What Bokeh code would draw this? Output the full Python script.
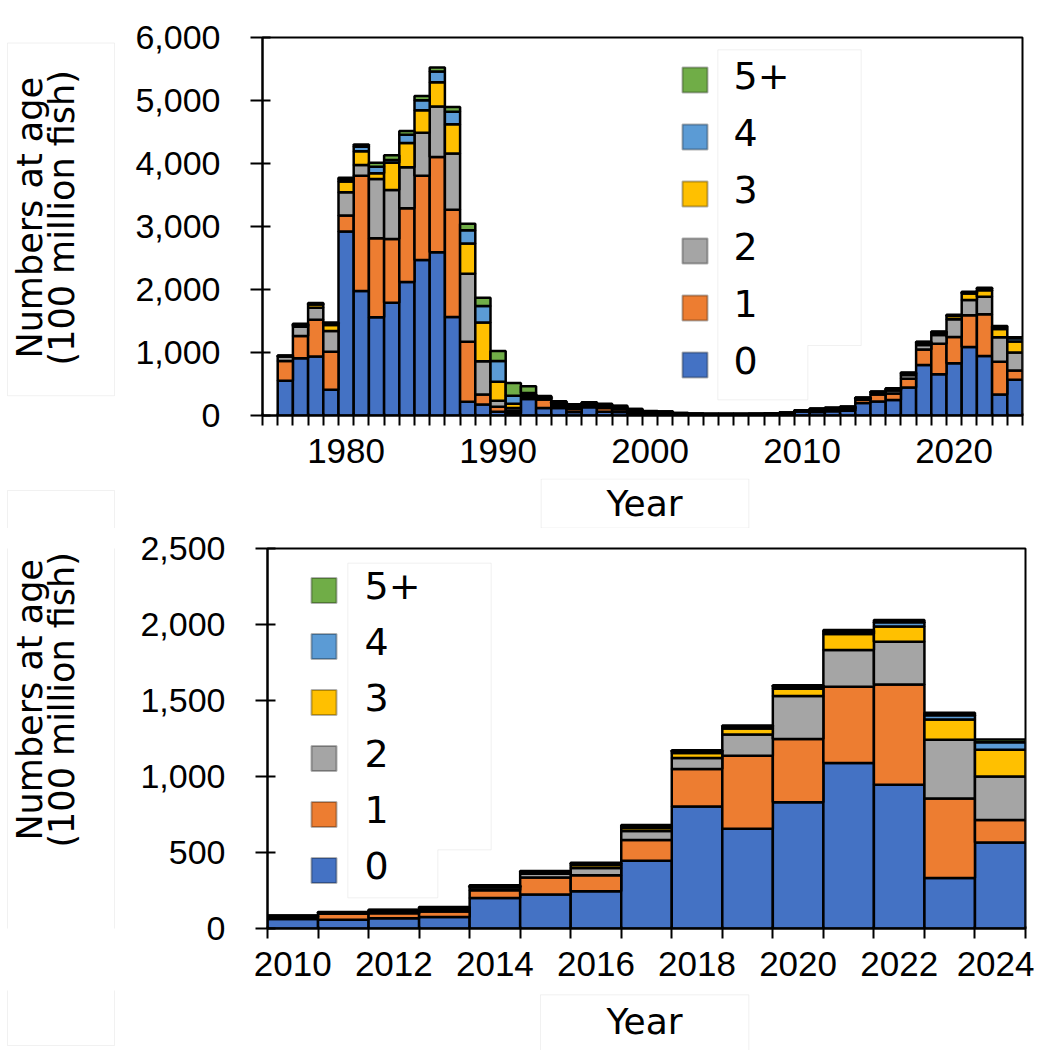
from math import pi
from bokeh.plotting import figure
from bokeh.models import (ColumnDataSource, FixedTicker, NumeralTickFormatter, Range1d,
                          Label, BoxAnnotation, PolyAnnotation)
from bokeh.layouts import column, row
from bokeh.embed import file_html
from bokeh.resources import INLINE

# ---------------- data ----------------
years = list(range(1976, 2025))
age_0 = [550, 910, 935, 410, 2920, 1975, 1560, 1790, 2120, 2470, 2590, 1565, 220, 175, 60,
         40, 263, 120, 120, 55, 130, 60, 55, 20, 15, 15, 10, 8, 8, 9, 9, 10, 12, 25,
         62, 57, 68, 75, 200, 223, 245, 445, 802, 656, 831, 1089, 945, 333, 566]
age_1 = [315, 350, 585, 600, 255, 1830, 1255, 1010, 1170, 1335, 1515, 1700, 950, 160, 80,
         35, 30, 135, 40, 50, 30, 60, 45, 40, 20, 18, 12, 8, 7, 7, 7, 8, 8, 10,
         10, 40, 33, 37, 51, 112, 105, 137, 247, 481, 416, 502, 661, 522, 148]
age_2 = [70, 150, 190, 330, 370, 170, 940, 780, 650, 685, 800, 895, 1080, 525, 95,
         45, 25, 20, 30, 35, 25, 35, 30, 25, 18, 15, 8, 6, 6, 5, 5, 5, 6, 6,
         6, 6, 12, 16, 18, 25, 48, 60, 72, 139, 282, 242, 280, 387, 286]
age_3 = [10, 20, 50, 95, 170, 220, 90, 430, 385, 355, 385, 465, 480, 615, 300,
         65, 20, 15, 20, 20, 12, 15, 13, 12, 10, 10, 5, 4, 4, 4, 3, 3, 3, 3,
         4, 3, 6, 8, 9, 12, 20, 20, 34, 39, 49, 104, 101, 133, 176]
age_4 = [5, 15, 15, 25, 40, 70, 105, 45, 130, 160, 170, 195, 210, 265, 330,
         130, 20, 10, 10, 12, 8, 10, 8, 5, 4, 5, 3, 2, 2, 2, 2, 2, 2, 2,
         2, 1, 3, 3, 4, 5, 9, 12, 10, 12, 14, 15, 27, 28, 49]
age_5plus = [3, 10, 10, 15, 20, 35, 60, 75, 60, 65, 65, 75, 105, 130, 160,
             200, 105, 8, 6, 8, 5, 5, 4, 3, 3, 2, 2, 2, 1, 1, 1, 1, 1, 1,
             1, 1, 1, 2, 2, 2, 5, 7, 7, 8, 9, 11, 15, 16, 18]

age_labels = ["0", "1", "2", "3", "4", "5+"]
age_colors = ["#4472C4", "#ED7D31", "#A5A5A5", "#FFC000", "#5B9BD5", "#70AD47"]

top_xticks = [1980, 1990, 2000, 2010, 2020]
top_yticks = [0, 1000, 2000, 3000, 4000, 5000, 6000]
bottom_start_year = 2010
bottom_xticks = [2010, 2012, 2014, 2016, 2018, 2020, 2022, 2024]
bottom_yticks = [0, 500, 1000, 1500, 2000, 2500]

y_title_1 = "Numbers at age"
y_title_2 = "(100 million fish)"
x_title = "Year"

TICK_FONT = "Liberation Sans"
TEXT_FONT = "DejaVu Sans"
BOX_GRAY = "#D0D0D0"
PAGE_W = 1034


def helper(x0, y0, w, h):
    """Blank figure whose data coordinates equal page pixels (y downwards)."""
    p = figure(width=w, height=h, output_backend="svg", toolbar_location=None,
               x_range=Range1d(x0, x0 + w), y_range=Range1d(y0 + h, y0),
               x_axis_type=None, y_axis_type=None, min_border=0)
    p.outline_line_color = None
    p.xgrid.visible = False
    p.ygrid.visible = False
    p.background_fill_color = "white"
    p.border_fill_color = "white"
    return p


def gray_box(p, l, t, r, b):
    p.add_layout(BoxAnnotation(left=l, right=r, top=t, bottom=b, fill_alpha=0,
                               line_color=BOX_GRAY, line_width=1))


def text(p, x, y, s, size, angle=0.0):
    p.add_layout(Label(x=x, y=y, text=s, angle=angle, text_align="center",
                       text_baseline="middle", text_font=TEXT_FONT,
                       text_font_size=size, text_color="black"))


def y_title(p, cy):
    text(p, 29, cy, y_title_1, "35px", angle=pi / 2)
    text(p, 61, cy, y_title_2, "35px", angle=pi / 2)


def chart(yrs, series, x_lo, x_hi, y_hi, xticks, yticks,
          fig_l, fig_t, fig_r, fig_b, fl, fr, ft, fb, legend):
    p = figure(width=fig_r - fig_l, height=fig_b - fig_t, output_backend="svg",
               toolbar_location=None,
               x_range=Range1d(x_lo, x_hi), y_range=Range1d(0, y_hi),
               min_border_left=fl - fig_l, min_border_right=fig_r - fr,
               min_border_top=ft - fig_t, min_border_bottom=fig_b - fb)
    p.background_fill_color = "white"
    p.border_fill_color = "white"
    p.outline_line_color = "black"
    p.outline_line_width = 2
    p.xgrid.visible = False
    p.ygrid.visible = False

    data = dict(year=yrs)
    names = []
    for i, s in enumerate(series):
        data[f"a{i}"] = s
        names.append(f"a{i}")
    src = ColumnDataSource(data)
    p.vbar_stack(names, x="year", width=1.0, fill_color=age_colors,
                 line_color="black", line_width=2.5, source=src)

    xa = p.xaxis[0]
    xa.ticker = FixedTicker(ticks=xticks,
                            minor_ticks=[y - 0.5 for y in range(int(x_lo + 0.5), int(x_hi + 0.5) + 1)])
    xa.major_tick_line_color = None
    xa.major_tick_in = 0
    xa.major_tick_out = 10
    xa.minor_tick_line_color = "black"
    xa.minor_tick_line_width = 2
    xa.minor_tick_in = 2
    xa.minor_tick_out = 10
    xa.axis_line_color = "black"
    xa.axis_line_width = 2
    xa.major_label_text_font = TICK_FONT
    xa.major_label_text_font_size = "35px"
    xa.major_label_text_color = "black"
    xa.major_label_standoff = 13

    ya = p.yaxis[0]
    ya.ticker = FixedTicker(ticks=yticks)
    ya.formatter = NumeralTickFormatter(format="0,0")
    ya.major_tick_in = 8
    ya.major_tick_out = 12
    ya.major_tick_line_width = 2
    ya.major_tick_line_color = "black"
    ya.minor_tick_line_color = None
    ya.axis_line_color = "black"
    ya.axis_line_width = 2
    ya.major_label_text_font = TICK_FONT
    ya.major_label_text_font_size = "34px"
    ya.major_label_text_color = "black"
    ya.major_label_standoff = 30

    def sx(px):
        return px - fl

    def sy(py):
        return fb - py

    # legend (inside the frame, screen units relative to the frame)
    mx, lx, row0, pitch, outline = legend
    p.add_layout(PolyAnnotation(xs=[sx(x) for x, _ in outline], ys=[sy(y) for _, y in outline],
                                xs_units="screen", ys_units="screen",
                                fill_alpha=0, line_color=BOX_GRAY, line_width=1))
    order = list(range(len(age_labels)))[::-1]
    for k, i in enumerate(order):
        cy = row0 + k * pitch
        p.add_layout(BoxAnnotation(left=sx(mx), right=sx(mx + 25), top=sy(cy - 12.5),
                                   bottom=sy(cy + 12.5), left_units="screen",
                                   right_units="screen", top_units="screen",
                                   bottom_units="screen", fill_color=age_colors[i],
                                   fill_alpha=1, line_color="black", line_width=2))
        p.add_layout(Label(x=sx(lx), y=sy(cy - 5), x_units="screen", y_units="screen",
                           text=age_labels[i], text_align="left", text_baseline="middle",
                           text_font=TEXT_FONT, text_font_size="38px", text_color="black"))
    return p


series_all = [age_0, age_1, age_2, age_3, age_4, age_5plus]

# ---- row 1: top chart ----
A1 = helper(0, 0, 120, 478)
gray_box(A1, 7, 7, 114, 453)
y_title(A1, 228)
M1 = chart(years, series_all, 1974.5, 2024.5, 6000, top_xticks, top_yticks,
           120, 0, PAGE_W, 478, 262, 1022, 37, 415,
           (682, 733, 79.5, 57, [(717.3, 49.3), (860.7, 49.3), (860.7, 345), (807.3, 345),
                                 (807.3, 399.3), (717.3, 399.3)]))

# ---- row 2: "Year" strip for top chart ----
S1 = helper(0, 478, PAGE_W, 50)
gray_box(S1, 540.7, 478.5, 748.3, 527.5)
text(S1, 644, 503, x_title, "36px")
gray_box(S1, 7, 490, 114, 700)

# ---- row 3: bottom chart ----
k = years.index(bottom_start_year)
bot_series = [s[k:] for s in series_all]
A2 = helper(0, 528, 120, 462)
gray_box(A2, 7, 400, 114, 1045)
y_title(A2, 712)
M2 = chart(years[k:], bot_series, bottom_start_year - 0.5, 2024.5, 2500,
           bottom_xticks, bottom_yticks,
           120, 528, PAGE_W, 990, 267, 1025, 548, 928,
           (311, 364, 590, 56, [(347.3, 562.7), (490.7, 562.7), (490.7, 849.3), (437.3, 849.3),
                                (437.3, 897.3), (347.3, 897.3)]))

# ---- row 4: "Year" strip for bottom chart ----
S2 = helper(0, 990, PAGE_W, 60)
gray_box(S2, 540, 994.3, 748.3, 1060)
text(S2, 644, 1021, x_title, "36px")
gray_box(S2, 7, 900, 114, 1045)

layout = column(row(A1, M1, spacing=0), S1, row(A2, M2, spacing=0), S2, spacing=0)
open("out.html", "w").write(file_html(layout, INLINE))
